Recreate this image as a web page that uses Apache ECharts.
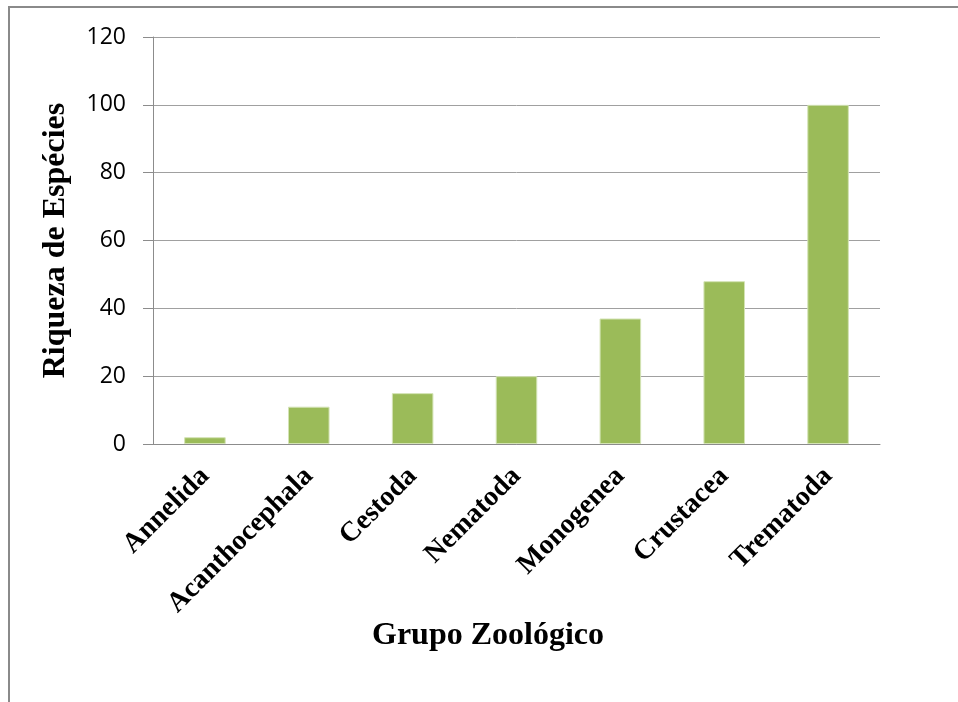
<!DOCTYPE html>
<html lang="pt">
<head>
<meta charset="UTF-8">
<title>Riqueza de Espécies por Grupo Zoológico</title>
<script src="https://cdn.jsdelivr.net/npm/echarts@6/dist/echarts.min.js"></script>
</head>
<body style="margin:0;background:#fff">
<div id="chart" style="width:958px;height:702px"></div>
<script>
// dados
var grupos = ['Annelida', 'Acanthocephala', 'Cestoda', 'Nematoda', 'Monogenea', 'Crustacea', 'Trematoda'];
var riqueza = [2, 11, 15, 20, 37, 48, 100];
var yMin = 0, yMax = 120, yPasso = 20;

var chart = echarts.init(document.getElementById('chart'));
var option = {
    backgroundColor: '#fff',
    animation: false,
    title: {
        text: 'Grupo Zoológico',
        left: 483,
        top: 615,
        textAlign: 'center',
        textStyle: {
            fontFamily: 'Liberation Serif',
            fontWeight: 'bold',
            fontSize: 32,
            color: '#000'
        }
    },
    graphic: [{
        type: 'polyline',
        shape: { points: [[9, 702], [9, 7], [958, 7]] },
        style: { stroke: '#8a8a8a', lineWidth: 2, fill: null }
    }],
    grid: { left: 153, right: 78, top: 37, bottom: 258 },
    xAxis: {
        type: 'category',
        data: grupos,
        axisLine: { lineStyle: { color: '#8c8c8c', width: 1 } },
        axisTick: { show: false },
        axisLabel: {
            rotate: 45,
            interval: 0,
            margin: 28,
            fontFamily: 'Liberation Serif',
            fontWeight: 'bold',
            fontSize: 28,
            color: '#000'
        }
    },
    yAxis: {
        type: 'value',
        min: yMin,
        max: yMax,
        interval: yPasso,
        name: 'Riqueza de Espécies',
        nameLocation: 'middle',
        nameGap: 81,
        nameTextStyle: {
            fontFamily: 'Liberation Serif',
            fontWeight: 'bold',
            fontSize: 32,
            color: '#000'
        },
        axisLine: { show: true, lineStyle: { color: '#8c8c8c', width: 1 } },
        axisTick: { show: true, length: 10, lineStyle: { color: '#8c8c8c' } },
        axisLabel: {
            margin: 27,
            fontFamily: 'Open Sans',
            fontSize: 23,
            color: '#000'
        },
        splitLine: { lineStyle: { color: '#a0a0a0', width: 1 } }
    },
    series: [{
        type: 'bar',
        data: riqueza,
        barWidth: '40%',
        itemStyle: {
            color: '#9bbb59',
            borderColor: '#d3e3b4',
            borderWidth: 1
        }
    }]
};
chart.setOption(option);
</script>
</body>
</html>
